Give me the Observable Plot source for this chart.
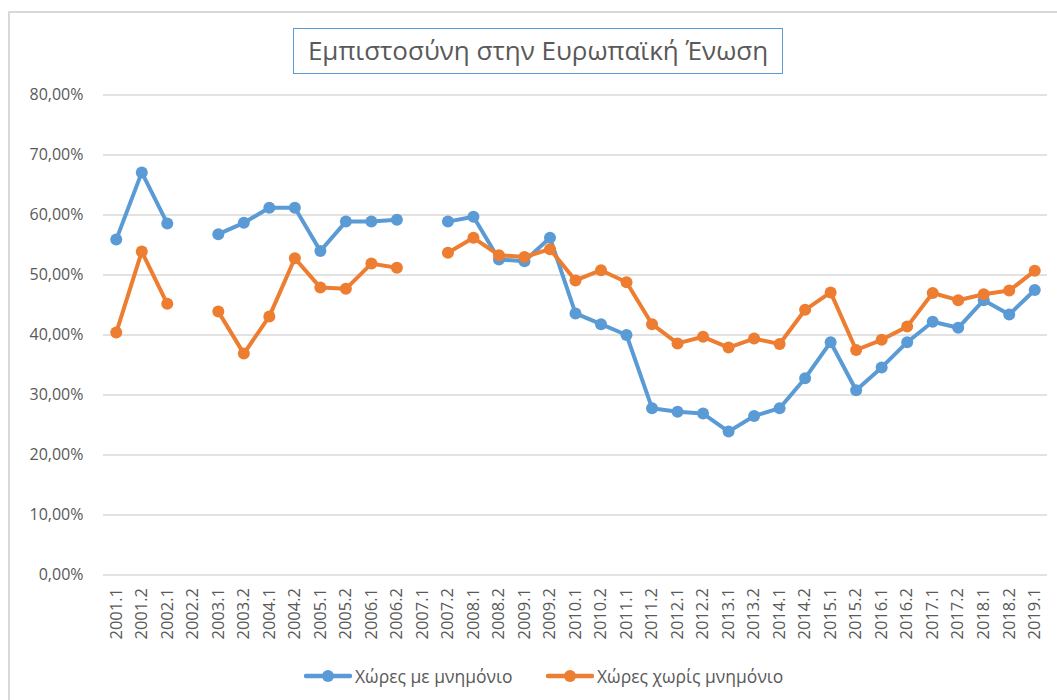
<!DOCTYPE html>
<html>
<head>
<meta charset="utf-8">
<script src="https://cdn.jsdelivr.net/npm/d3@7"></script>
<script src="https://cdn.jsdelivr.net/npm/@observablehq/plot@0.6"></script>
<style>
  html, body { margin: 0; padding: 0; background: #fff; overflow: hidden; }
  #wrap { position: relative; width: 1057px; height: 700px; font-family: "Open Sans", "Noto Sans", sans-serif; color: #595959; }
  #frame { position: absolute; left: 8px; top: 11px; width: 1100px; height: 720px; border: 2px solid #d9d9d9; box-sizing: border-box; }
  #title { position: absolute; left: 293px; top: 28px; width: 490px; height: 46px; box-sizing: border-box; border: 1.5px solid #5B9BD5; font-size: 26px; line-height: 42px; text-align: center; color: #595959; white-space: nowrap; }
  #chart { position: absolute; left: 0; top: 0; }
  #legend { position: absolute; top: 664px; left: 0; width: 1057px; font-size: 17.5px; }
  .item { position: absolute; display: flex; align-items: center; white-space: nowrap; }
  .item svg { margin-right: 3px; }
</style>
</head>
<body>
<div id="wrap">
  <div id="frame"></div>
  <div id="chart"></div>
  <div id="title">Εμπιστοσύνη στην Ευρωπαϊκή Ένωση</div>
  <div id="legend"></div>
</div>
<script>
const categories = ["2001.1","2001.2","2002.1","2002.2","2003.1","2003.2","2004.1","2004.2","2005.1","2005.2","2006.1","2006.2","2007.1","2007.2","2008.1","2008.2","2009.1","2009.2","2010.1","2010.2","2011.1","2011.2","2012.1","2012.2","2013.1","2013.2","2014.1","2014.2","2015.1","2015.2","2016.1","2016.2","2017.1","2017.2","2018.1","2018.2","2019.1"];
const withMemo = [55.9,67.1,58.6,null,56.8,58.7,61.2,61.2,54.0,58.9,58.9,59.2,null,58.9,59.7,52.6,52.3,56.2,43.6,41.8,40.0,27.8,27.2,26.9,23.9,26.5,27.8,32.8,38.8,30.8,34.6,38.8,42.2,41.2,45.8,43.4,47.5];
const withoutMemo = [40.4,53.9,45.2,null,43.9,36.9,43.1,52.8,47.9,47.7,51.9,51.2,null,53.7,56.2,53.3,53.0,54.3,49.1,50.8,48.8,41.8,38.6,39.7,37.9,39.4,38.5,44.2,47.1,37.5,39.2,41.4,47.0,45.8,46.8,47.4,50.7];
const yTicks = [0,10,20,30,40,50,60,70,80];
const seriesNames = ["Χώρες με μνημόνιο","Χώρες χωρίς μνημόνιο"];
const colors = ["#5B9BD5","#ED7D31"];

const rows = [];
[withMemo, withoutMemo].forEach((arr, s) => {
  arr.forEach((v, i) => rows.push({cat: categories[i], value: v, series: seriesNames[s]}));
});
const fmt = d => d.toFixed(2).replace(".", ",") + "%";

const plot = Plot.plot({
  width: 1057,
  height: 700,
  marginTop: 94.5,
  marginBottom: 125.5,
  marginLeft: 103,
  marginRight: 10,
  style: {fontFamily: "'Open Sans', 'Noto Sans', sans-serif", color: "#595959", background: "transparent"},
  x: {type: "point", domain: categories, padding: 0.5, round: false, label: null},
  y: {domain: [0, 80], label: null},
  color: {domain: seriesNames, range: colors},
  marks: [
    Plot.ruleY(yTicks, {stroke: "#d9d9d9", strokeWidth: 1.6, strokeOpacity: 1}),
    Plot.axisY(yTicks, {tickSize: 0, tickPadding: 20, tickFormat: fmt, fontSize: 16, fill: "#595959"}),
    Plot.axisX({tickSize: 0, tickRotate: -90, tickPadding: 13, fontSize: 16.5, fill: "#595959"}),
    Plot.line(rows, {x: "cat", y: "value", z: "series", stroke: "series", strokeWidth: 4, curve: "linear"}),
    Plot.dot(rows.filter(d => d.value != null), {x: "cat", y: "value", fill: "series", r: 6})
  ]
});
document.getElementById("chart").appendChild(plot);

const legend = document.getElementById("legend");
const lefts = [304, 546];
seriesNames.forEach((name, i) => {
  const item = document.createElement("div");
  item.className = "item";
  item.style.left = lefts[i] + "px";
  item.innerHTML = `<svg width="48" height="24"><line x1="2" y1="12" x2="46" y2="12" stroke="${colors[i]}" stroke-width="4.5" stroke-linecap="round"/><circle cx="24" cy="12" r="6" fill="${colors[i]}"/></svg><span>${name}</span>`;
  legend.appendChild(item);
});
</script>
</body>
</html>
